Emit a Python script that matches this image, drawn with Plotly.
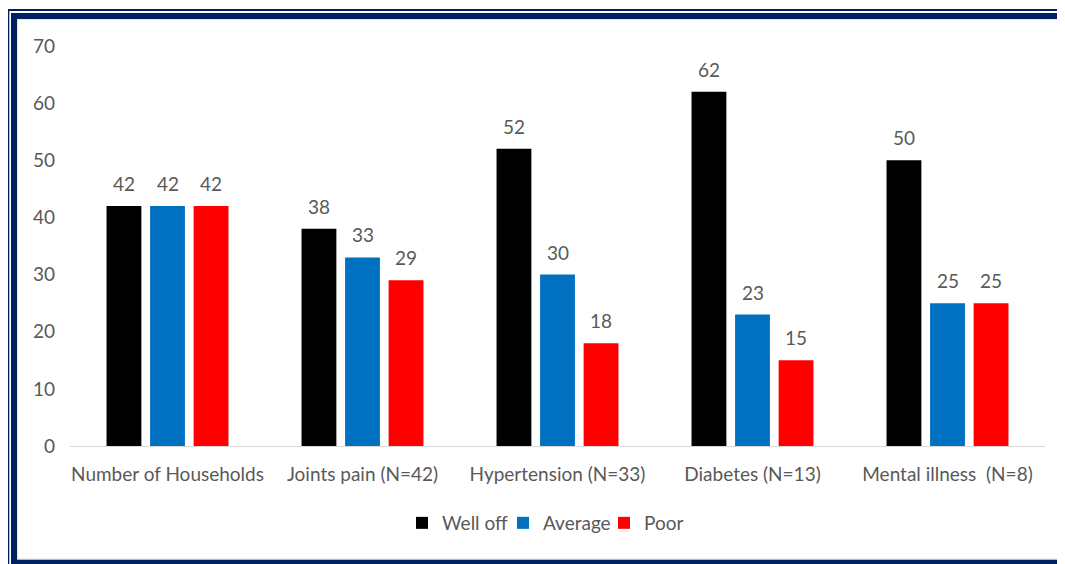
import plotly.graph_objects as go

categories = ["Number of Households", "Joints pain (N=42)", "Hypertension (N=33)",
              "Diabetes (N=13)", "Mental illness  (N=8)"]
well_off = [42, 38, 52, 62, 50]
average = [42, 33, 30, 23, 25]
poor = [42, 29, 18, 15, 25]
series_names = ["Well off", "Average", "Poor"]
series_values = [well_off, average, poor]
colors = ["#000000", "#0070C0", "#FF0000"]
y_ticks = [0, 10, 20, 30, 40, 50, 60, 70]

FONT = "Lato, Open Sans, sans-serif"
FS = 19
TXT = "#595959"
W, H = 1065, 564
OFF = 8  # page body margin offset of the figure on screen
# plot area on screen: x 70..1045, y 46..446
ML, MT = 70 - OFF, 46 - OFF
MR = W - (1045 - OFF)
MB = H - (446 - OFF)
PW = W - ML - MR
PH = H - MT - MB
BARGAP = 0.33

fig = go.Figure()
for name, vals, col in zip(series_names, series_values, colors):
    fig.add_trace(go.Bar(x=categories, y=vals, name=name, marker_color=col,
                         marker_line_width=0))

# value labels
slot = PW / len(categories) * (1 - BARGAP) / 3
annotations = []
for i, vals in enumerate(series_values):
    for c, v in zip(categories, vals):
        annotations.append(dict(x=c, y=v, text=str(v), showarrow=False,
                                xshift=(i - 1) * slot, yshift=9, yanchor="bottom",
                                font=dict(family=FONT, size=FS, color=TXT)))

def px2x(sx):
    return (sx - OFF - ML) / PW

def px2y(sy):
    return (H - MB - (sy - OFF)) / PH

navy = "#002060"
shapes = [
    dict(type="rect", xref="paper", yref="paper",
         x0=px2x(8.3), x1=px2x(1085), y0=px2y(10), y1=px2y(585),
         line=dict(color=navy, width=2), fillcolor="rgba(0,0,0,0)", layer="above"),
    dict(type="rect", xref="paper", yref="paper",
         x0=px2x(14), x1=px2x(1085), y0=px2y(16), y1=px2y(562.5),
         line=dict(color=navy, width=6), fillcolor="rgba(0,0,0,0)", layer="above"),
    dict(type="rect", xref="paper", yref="paper",
         x0=px2x(17.5), x1=px2x(1085), y0=px2y(19.5), y1=px2y(559),
         line=dict(color="#dfe4ee", width=1), fillcolor="rgba(0,0,0,0)", layer="above"),
]

fig.update_layout(
    width=W, height=H,
    margin=dict(l=ML, r=MR, t=MT, b=MB, autoexpand=False),
    paper_bgcolor="white", plot_bgcolor="white",
    barmode="group", bargap=BARGAP, bargroupgap=0.2,
    font=dict(family=FONT, size=FS, color=TXT),
    showlegend=True,
    legend=dict(orientation="h", x=0.5 - 4 / PW, xanchor="center", y=px2y(523),
                yanchor="middle", entrywidth=56,
                font=dict(family=FONT, size=FS, color=TXT)),
    annotations=annotations,
    shapes=shapes,
)
fig.update_xaxes(showline=True, linecolor="#d9d9d9", linewidth=1, showgrid=False,
                 ticks="", tickangle=0, automargin=False,
                 tickfont=dict(family=FONT, size=FS, color=TXT),
                 ticklabelstandoff=11)
fig.update_yaxes(range=[0, 70], tickvals=y_ticks, showgrid=False, zeroline=False,
                 showline=False, ticks="", automargin=False,
                 tickfont=dict(family=FONT, size=FS, color=TXT),
                 ticklabelstandoff=14)

fig.write_html("out.html")
